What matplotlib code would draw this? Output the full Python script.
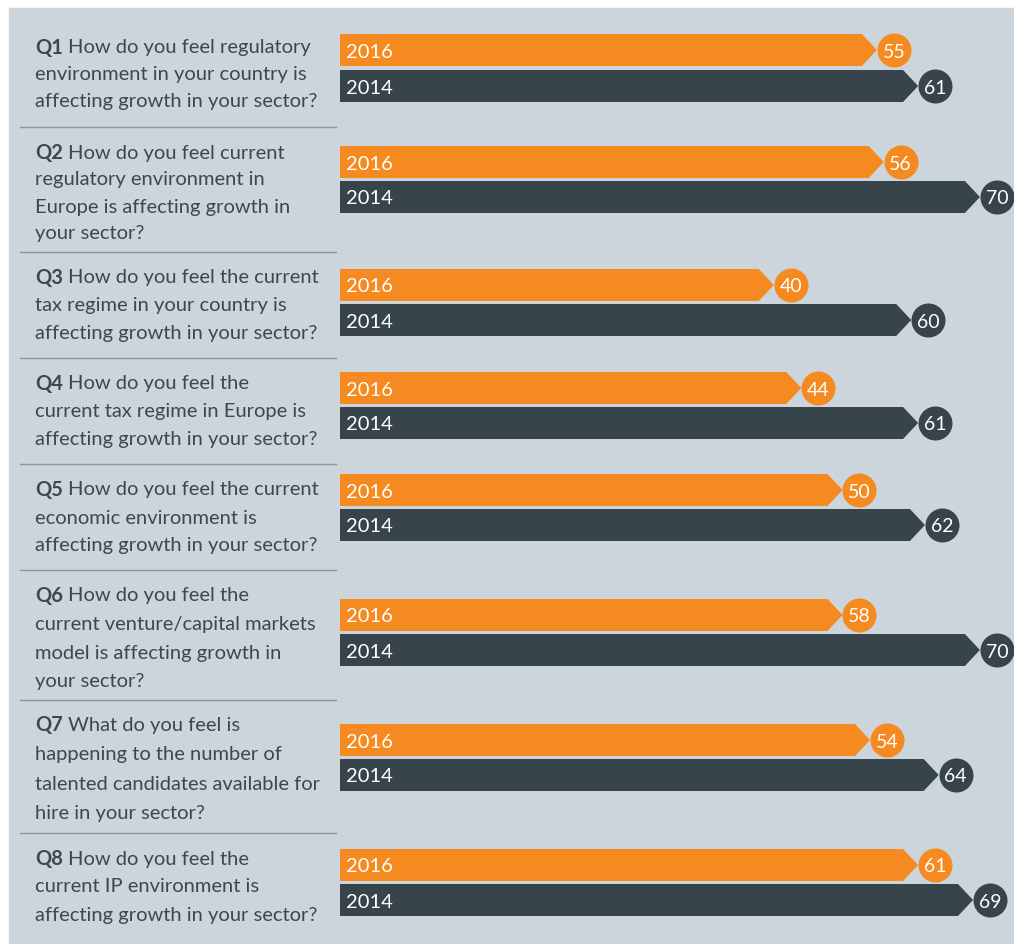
import matplotlib
matplotlib.use("Agg")
import matplotlib.pyplot as plt
from matplotlib.patches import Polygon, Rectangle
from matplotlib.transforms import blended_transform_factory

# data
q_ids = ["Q1", "Q2", "Q3", "Q4", "Q5", "Q6", "Q7", "Q8"]
q_text = [
    ["How do you feel regulatory", "environment in your country is", "affecting growth in your sector?"],
    ["How do you feel current", "regulatory environment in", "Europe is affecting growth in", "your sector?"],
    ["How do you feel the current", "tax regime in your country is", "affecting growth in your sector?"],
    ["How do you feel the", "current tax regime in Europe is", "affecting growth in your sector?"],
    ["How do you feel the current", "economic environment is", "affecting growth in your sector?"],
    ["How do you feel the", "current venture/capital markets", "model is affecting growth in", "your sector?"],
    ["What do you feel is", "happening to the number of", "talented candidates available for", "hire in your sector?"],
    ["How do you feel the", "current IP environment is", "affecting growth in your sector?"],
]
labels_2016 = [55, 56, 40, 44, 50, 58, 54, 61]
labels_2014 = [61, 70, 60, 61, 62, 70, 64, 69]
# drawn bar lengths (Q6 2016 bar is drawn shorter than its label in the original)
bars_2016 = [55, 56, 40, 44, 50, 50, 54, 61]
bars_2014 = labels_2014
years = ["2016", "2014"]

# layout (pixel rows, top = 0)
row_2016 = [51, 163, 286, 389, 491, 616, 741, 866]
row_2014 = [87, 198, 321, 424, 526, 651, 776, 901]
text_top = [48, 153, 278, 384, 490, 596, 725, 859]
line_gap = [26.5, 27, 28, 27.5, 28, 28.5, 29.5, 28]
sep_rows = [128, 253, 359, 465, 571, 701, 834]

ORANGE = "#f58b20"
DARK = "#37444c"
BG = "#cdd5dc"
TXT = "#3e474e"
FONT = "Lato"

W, H = 1014, 945
px0, ppu = 499.0, 6.87  # pixel x of value 0, pixels per unit
to_val = lambda px: (px - px0) / ppu

fig = plt.figure(figsize=(W / 100, H / 100), dpi=100)
fig.patch.set_facecolor("white")
ax = fig.add_axes([0, 0, 1, 1])
ax.set_xlim(to_val(0), to_val(W))
ax.set_ylim(H, 0)
ax.axis("off")
ax.add_patch(Rectangle((to_val(9), 9), to_val(W) - to_val(9), H, color=BG, zorder=0))

start = to_val(340)
head = 15 / ppu
half = 16


def arrow(v, y, color):
    pts = [(start, y - half), (v - head, y - half), (v, y), (v - head, y + half), (start, y + half)]
    ax.add_patch(Polygon(pts, closed=True, color=color, lw=0, zorder=2))


for i in range(len(q_ids)):
    for bars, labels, rows, col, yr in [(bars_2016, labels_2016, row_2016, ORANGE, years[0]),
                                        (bars_2014, labels_2014, row_2014, DARK, years[1])]:
        v, y = bars[i], rows[i]
        arrow(v, y, col)
        cx = v + 17 / ppu
        ax.scatter([cx], [y], s=600, color=col, lw=0, zorder=3)
        ax.text(cx, y + 1, str(labels[i]), color="white", fontsize=14, family=FONT,
                ha="center", va="center", zorder=4)
        ax.text(to_val(346), y + 1, yr, color="white", fontsize=14.5, family=FONT,
                ha="left", va="center", zorder=4)

tr = blended_transform_factory(fig.transFigure, ax.transData)
for y in sep_rows:
    ax.plot([20 / W, 336 / W], [y, y], color="#8d959b", lw=1.0, transform=tr, zorder=1)

fig.canvas.draw()
renderer = fig.canvas.get_renderer()
x0 = 35 / W
fs = 14.5
for i, q in enumerate(q_ids):
    y = text_top[i]
    b = ax.text(x0, y, q, transform=tr, fontsize=fs, family=FONT, fontweight="bold",
                color=TXT, ha="left", va="center")
    wpx = b.get_window_extent(renderer).width
    for j, line in enumerate(q_text[i]):
        yy = y + j * line_gap[i]
        xx = x0 + (wpx + 5) / W if j == 0 else x0
        ax.text(xx, yy, line, transform=tr, fontsize=fs, family=FONT,
                color=TXT, ha="left", va="center")

fig.savefig("out.png", dpi=100, facecolor="white")
